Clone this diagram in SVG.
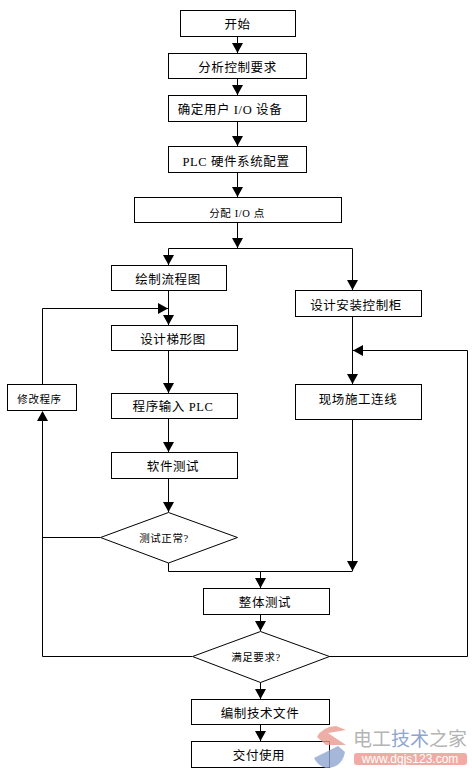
<svg xmlns="http://www.w3.org/2000/svg" width="472" height="778" viewBox="0 0 472 778">
<style>
.b{fill:#fff;stroke:#000;stroke-width:1}
text{font-family:"Liberation Serif","Noto Sans CJK SC",serif;fill:#000;font-size:12.5px;text-anchor:middle;letter-spacing:.6px}
.s{font-size:10.5px}
.c line,.c polyline{fill:none;stroke:#000;stroke-width:1}
.c polygon{fill:#000}
.w{font-family:"Noto Sans CJK SC",sans-serif;font-size:19px;text-anchor:start;letter-spacing:0}
</style>
<defs><polygon id="a" points="-5.5,-10 5.5,-10 0,0"/></defs>
<rect width="472" height="778" fill="#fff"/>
<g id="connectors" class="c">
<line x1="237.5" y1="36" x2="237.5" y2="53"/><use href="#a" x="237.5" y="53"/>
<line x1="237.5" y1="78" x2="237.5" y2="95"/><use href="#a" x="237.5" y="95"/>
<line x1="237.5" y1="121" x2="237.5" y2="146"/><use href="#a" x="237.5" y="146"/>
<line x1="237.5" y1="172" x2="237.5" y2="197"/><use href="#a" x="237.5" y="197"/>
<line x1="237.5" y1="222" x2="237.5" y2="248"/><use href="#a" x="237.5" y="248"/>
<polyline points="168.5,265 168.5,248.5 352.5,248.5 352.5,290"/>
<use href="#a" x="168.5" y="265"/><use href="#a" x="352.5" y="290"/>
<line x1="168.5" y1="290" x2="168.5" y2="325"/><use href="#a" x="168.5" y="325"/>
<polyline points="42.5,384 42.5,308.5 168,308.5"/>
<polygon points="158,303 158,314 168,308.5"/>
<line x1="168.5" y1="350" x2="168.5" y2="393"/><use href="#a" x="168.5" y="393"/>
<line x1="168.5" y1="418" x2="168.5" y2="452"/><use href="#a" x="168.5" y="452"/>
<line x1="168.5" y1="478" x2="168.5" y2="512"/><use href="#a" x="168.5" y="512"/>
<line x1="352.5" y1="316" x2="352.5" y2="384"/><use href="#a" x="352.5" y="384"/>
<polyline points="329,656.5 467.5,656.5 467.5,350.5 353,350.5"/>
<polygon points="363,345 363,356 353,350.5"/>
<line x1="352.5" y1="419" x2="352.5" y2="571"/><use href="#a" x="352.5" y="571"/>
<polyline points="168.5,563 168.5,571.5 352.5,571.5"/>
<line x1="260.5" y1="571" x2="260.5" y2="588"/><use href="#a" x="260.5" y="588"/>
<line x1="100" y1="537.5" x2="42.5" y2="537.5"/>
<polyline points="192,656.5 42.5,656.5 42.5,412"/>
<polygon points="37,421 48,421 42.5,411"/>
<line x1="260.5" y1="614" x2="260.5" y2="631"/><use href="#a" x="260.5" y="631"/>
<line x1="260.5" y1="682" x2="260.5" y2="699"/><use href="#a" x="260.5" y="699"/>
<line x1="260.5" y1="724" x2="260.5" y2="741"/><use href="#a" x="260.5" y="741"/>
</g>
<g id="n1"><rect class="b" x="180.5" y="10.5" width="115" height="26"/><text x="237.5" y="29">开始</text></g>
<g id="n2"><rect class="b" x="168.5" y="53.5" width="138" height="25"/><text x="237.5" y="72">分析控制要求</text></g>
<g id="n3"><rect class="b" x="168.5" y="95.5" width="138" height="26"/><text x="230" y="114">确定用户 I/O 设备</text></g>
<g id="n4"><rect class="b" x="168.5" y="146.5" width="138" height="26"/><text x="236" y="166">PLC 硬件系统配置</text></g>
<g id="n5"><rect class="b" x="134.5" y="197.5" width="207" height="25"/><text class="s" x="237" y="217">分配 I/O 点</text></g>
<g id="n6"><rect class="b" x="111.5" y="265.5" width="115" height="25"/><text x="168" y="284">绘制流程图</text></g>
<g id="n7"><rect class="b" x="111.5" y="325.5" width="126" height="25"/><text x="173" y="344">设计梯形图</text></g>
<g id="n8"><rect class="b" x="111.5" y="393.5" width="126" height="25"/><text x="173" y="411">程序输入 PLC</text></g>
<g id="n9"><rect class="b" x="111.5" y="452.5" width="126" height="26"/><text x="173" y="471">软件测试</text></g>
<g id="n10"><polygon class="b" points="168.5,512.5 237.5,537.5 168.5,563 100.5,537.5"/><text class="s" x="164" y="541.5">测试正常?</text></g>
<g id="n11"><rect class="b" x="7.5" y="384.5" width="69" height="26"/><text class="s" x="39.5" y="403">修改程序</text></g>
<g id="n12"><rect class="b" x="295.5" y="290.5" width="126" height="26"/><text x="356" y="310">设计安装控制柜</text></g>
<g id="n13"><rect class="b" x="295.5" y="384.5" width="126" height="35"/><text x="358" y="404">现场施工连线</text></g>
<g id="n14"><rect class="b" x="203.5" y="588.5" width="126" height="26"/><text x="265" y="607">整体测试</text></g>
<g id="n15"><polygon class="b" points="260.5,631.5 329.5,656.5 260.5,682.5 192.5,656.5"/><text class="s" x="256" y="660.5">满足要求?</text></g>
<g id="n16"><rect class="b" x="191.5" y="699.5" width="138" height="25"/><text x="260" y="718">编制技术文件</text></g>
<g id="n17"><rect class="b" x="191.5" y="741.5" width="138" height="26"/><text x="259" y="760">交付使用</text></g>
<g id="watermark">
<path d="M317 737 Q322 727 336 726 L346 730 L328 733 L346 745 L326 745 Z" fill="#e89a90" opacity=".8"/>
<path d="M314 758 L338 746 L345 752 Q342 768 326 768 Q318 766 314 758 Z" fill="#8ea6cf" opacity=".8"/>
<text class="w" x="353" y="746" style="fill:#b4b4b4">电工<tspan style="fill:#8ea6cf">技术</tspan>之家</text>
<rect x="354" y="753" width="113" height="12" rx="3" fill="#ee9c94" opacity=".85"/>
<text x="410" y="763" style="fill:#fff;font-family:'Liberation Sans',sans-serif;font-size:12px;letter-spacing:0">www.dgjs123.com</text>
</g>
</svg>
